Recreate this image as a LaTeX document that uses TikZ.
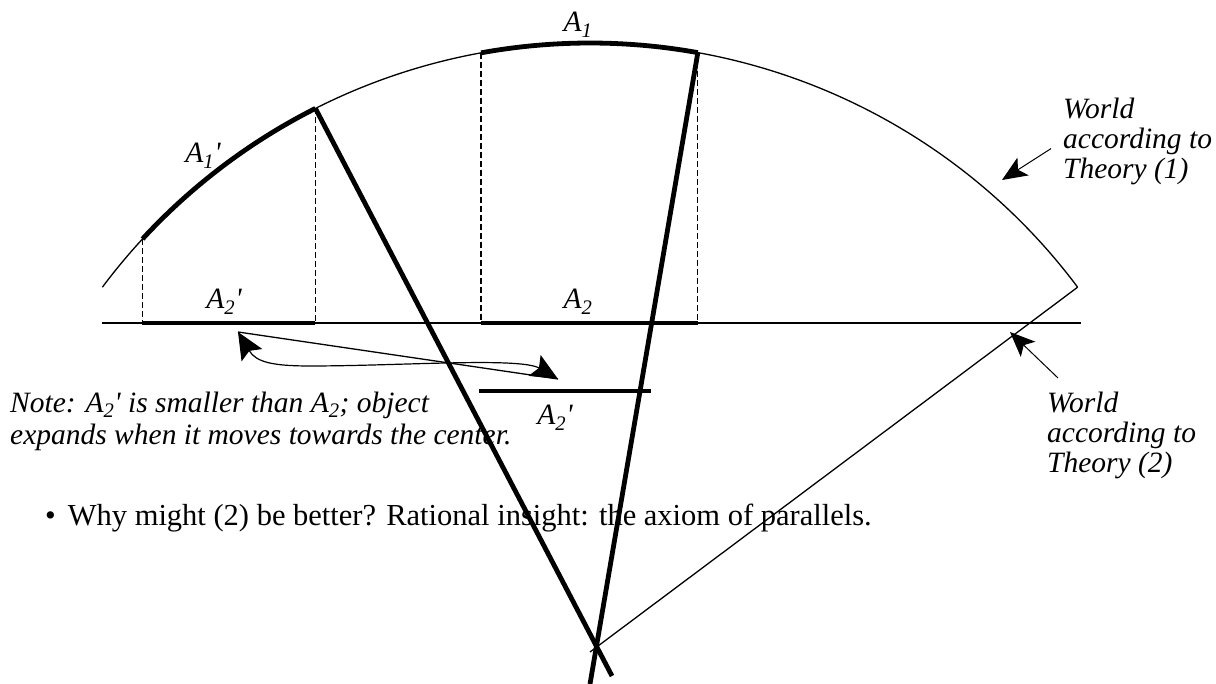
\documentclass[tikz,border=0pt]{standalone}
\usepackage{fontspec}
\setmainfont{Liberation Serif}
\usetikzlibrary{arrows.meta}
\begin{document}
\begin{tikzpicture}[
    x=1pt, y=1pt,
    every node/.style={inner sep=0pt},
    lbl/.style={font=\fontsize{29.5}{30}\selectfont\itshape},
    body/.style={font=\fontsize{30.5}{34}\selectfont},
    thinline/.style={line width=1.3pt},
    heavy/.style={line width=4.8pt},
    drop/.style={line width=1.3pt, dash pattern=on 6pt off 3pt},
    ptr/.style={-{Stealth[length=25pt, width=21pt, inset=6pt]}, line width=1pt},
    swap/.style={{Stealth[length=27pt, width=24pt, inset=5pt]}-{Stealth[length=27pt, width=24pt, inset=5pt]}, line width=1.2pt}
]
\useasboundingbox (0,0) rectangle (1216,684);
% centre of the world and points on its rim
\coordinate (O) at (590,32);
\path (O) ++(36.8:609)  coordinate (rimR);
\path (O) ++(100.3:609) coordinate (a1l);
\path (O) ++(79.8:609)  coordinate (a1r);
\path (O) ++(137.3:609) coordinate (a1pl);
\path (O) ++(116.8:609) coordinate (a1pr);
\coordinate (hl) at (102,361);
\coordinate (hr) at (1081,361);
\coordinate (ray1end) at (612,8);
\coordinate (ray2end) at (590,0);
\coordinate (lowL) at (479,293);
\coordinate (lowR) at (651,293);

% world (1) and world (2)
\draw[thinline] (rimR) arc[start angle=36.8, end angle=143.2, radius=609];
\draw[thinline] (hl) -- (hr);
\draw[thinline] (O) -- (rimR);

% areas on the rim and their projections
\draw[heavy] (a1l) arc[start angle=100.3, end angle=79.8, radius=609];
\draw[heavy] (a1pl) arc[start angle=137.3, end angle=116.8, radius=609];
\foreach \p in {a1l, a1r, a1pl, a1pr}
    \draw[drop] (\p) -- (\p |- hl);
\draw[heavy] (a1l |- hl) -- (a1r |- hl);
\draw[heavy] (a1pl |- hl) -- (a1pr |- hl);
\draw[heavy] (lowL) -- (lowR);

% rays
\draw[heavy] (a1pr) -- (ray1end);
\draw[heavy] (a1r) -- (ray2end);

% labels
\node[lbl, anchor=base] (A1)  at (578,652) {A\textsubscript{1}};
\node[lbl, anchor=base] (A1p) at (203,521) {A\textsubscript{1}\textquotesingle};
\node[lbl, anchor=base] (A2p) at (224,375) {A\textsubscript{2}\textquotesingle};
\node[lbl, anchor=base] (A2)  at (578,375) {A\textsubscript{2}};
\node[lbl, anchor=base] (A2q) at (555,259) {A\textsubscript{2}\textquotesingle};

\node[lbl, font=\fontsize{29.5}{32.5}\selectfont\itshape, anchor=north west, align=left] (note) at (10,292.5)
    {Note: A\textsubscript{2}\textquotesingle{} is smaller than A\textsubscript{2}; object\\expands when it moves towards the center.};
\node[lbl, anchor=north west, align=left] (w1) at (1063,586) {World\\according to\\Theory (1)};
\node[lbl, anchor=north west, align=left] (w2) at (1047,292) {World\\according to\\Theory (2)};

\coordinate (w1tip) at (1002,504);
\coordinate (w2tip) at (1010,352);
\draw[ptr] ([shift={(-12pt,-7pt)}]w1.west) -- (w1tip);
\draw[ptr] ([shift={(11pt,14pt)}]w2.north west) -- (w2tip);

% moving the object
\coordinate (tipL) at (238,352);
\coordinate (tipR) at (558,305);
\draw[swap] (tipL) .. controls (256,322) and (272,318) .. (310,318)
    .. controls (400,318) and (520,327) .. (tipR);
\draw[thinline] (tipL) -- (tipR);

\node[body, anchor=base west] (why) at (45,158)
    {\textbullet\hspace{12pt}Why might (2) be better? Rational insight: the axiom of parallels.};
\end{tikzpicture}
\end{document}
